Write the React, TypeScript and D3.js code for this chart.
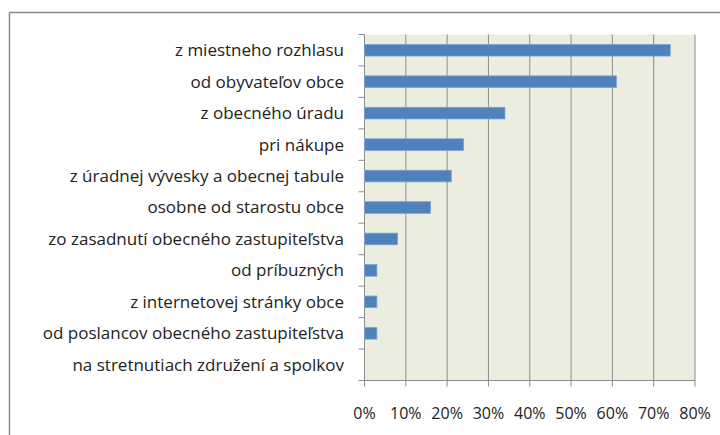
import React from "react";
import * as d3 from "d3";

const categories = [
  "z miestneho rozhlasu",
  "od obyvateľov obce",
  "z obecného úradu",
  "pri nákupe",
  "z úradnej vývesky a obecnej tabule",
  "osobne od starostu obce",
  "zo zasadnutí obecného zastupiteľstva",
  "od príbuzných",
  "z internetovej stránky obce",
  "od poslancov obecného zastupiteľstva",
  "na stretnutiach združení a spolkov",
];
const values = [74, 61, 34, 24, 21, 16, 8, 3, 3, 3, 0];
const xTicks = [0, 10, 20, 30, 40, 50, 60, 70, 80];

export default function App() {
  const W = 720, H = 435;
  const left = 364.5, right = 695, top = 34.5, bottom = 380.5;
  const x = d3.scaleLinear().domain([0, 80]).range([left, right]);
  const y = d3.scaleBand<string>().domain(categories).range([top, bottom]).paddingInner(0.63).paddingOuter(0.315);
  const yb = d3.scaleBand<string>().domain(categories).range([top, bottom]);
  const font = "'Open Sans', sans-serif";
  return (
    <svg width={W} height={H} style={{ position: "fixed", left: 0, top: 0 }}>
      <rect x={0} y={0} width={W} height={H} fill="#fff" />
      <path d={`M9.5,${H} V12.5 H${W}`} fill="none" stroke="#8a8a8a" strokeWidth={1.5} />
      <rect x={left} y={top} width={right - left} height={bottom - top} fill="#ebeedf" />
      {xTicks.map((t) => (
        <g key={t}>
          {t > 0 && <line x1={x(t)} x2={x(t)} y1={top} y2={bottom} stroke="#8c8c8c" strokeWidth={1} />}
          <line x1={x(t)} x2={x(t)} y1={bottom} y2={bottom + 6} stroke="#8c8c8c" strokeWidth={1} />
          <text x={x(t)} y={bottom + 33} dy="0.35em" textAnchor="middle" fontFamily={font} fontSize={16} fill="#222">
            {t}%
          </text>
        </g>
      ))}
      <line x1={left} x2={right} y1={bottom} y2={bottom} stroke="#8c8c8c" strokeWidth={1} />
      <line x1={left} x2={left} y1={top} y2={bottom} stroke="#8c8c8c" strokeWidth={1} />
      {categories.map((c, i) => (
        <line key={"t" + i} x1={left - 6} x2={left} y1={yb(c)!} y2={yb(c)!} stroke="#8c8c8c" strokeWidth={1} />
      ))}
      <line x1={left - 6} x2={left} y1={bottom} y2={bottom} stroke="#8c8c8c" strokeWidth={1} />
      {categories.map((c, i) => (
        <g key={c}>
          {values[i] > 0 && (
            <rect
              x={x(0)}
              y={y(c)!}
              width={x(values[i]) - x(0)}
              height={y.bandwidth()}
              fill="#4f81bd"
              stroke="#7fa3cf"
              strokeWidth={0.8}
            />
          )}
          <text
            x={344}
            y={yb(c)! + yb.bandwidth() / 2}
            dy="0.35em"
            textAnchor="end"
            fontFamily={font}
            fontSize={17}
            fill="#222"
          >
            {c}
          </text>
        </g>
      ))}
    </svg>
  );
}
